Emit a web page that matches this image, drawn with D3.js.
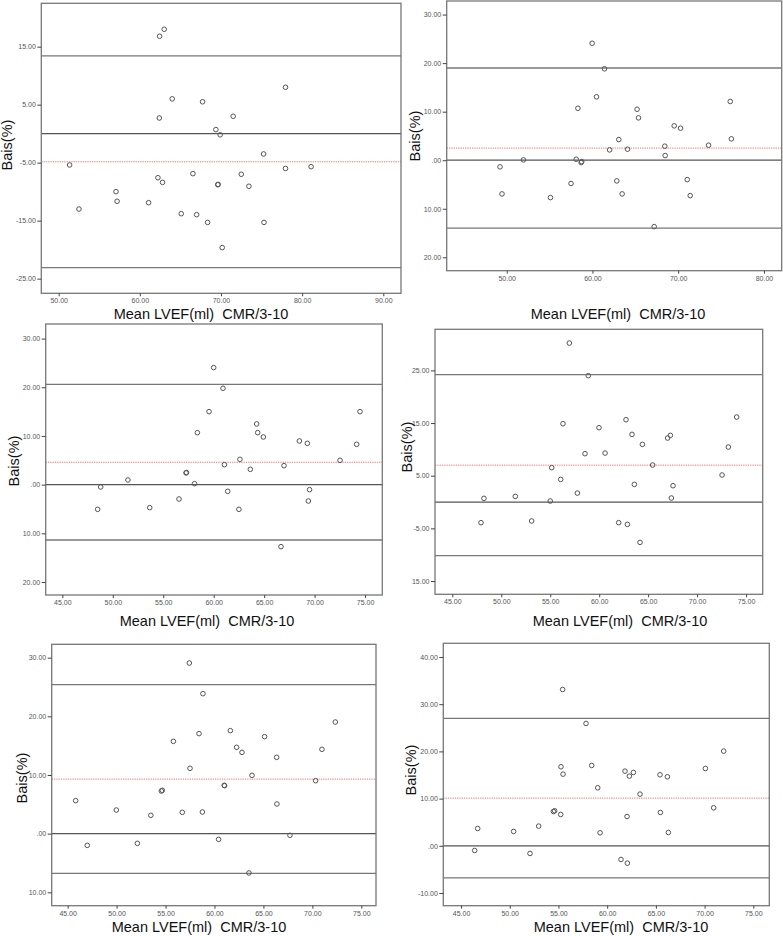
<!DOCTYPE html>
<html>
<head>
<meta charset="utf-8">
<script src="https://cdn.jsdelivr.net/npm/d3@7"></script>
<style>
  html, body { margin: 0; padding: 0; background: #fff; }
  svg { display: block; }
</style>
</head>
<body>
<svg id="chart" width="783" height="936"></svg>
<script>
// ---------------- DATA ----------------
// Panel 1
const p1Mean = [51.35, 52.5, 57.06, 57.2, 61.08, 62.44, 63.0, 62.4, 62.23, 62.8, 63.99, 65.1, 66.54, 67.0, 67.73, 68.35, 69.37, 69.9, 69.6, 69.65, 70.15, 71.5, 72.5, 73.44, 75.25, 75.3, 77.95, 77.95, 81.1];
const p1Bias = [-5.4, -13.0, -10.0, -11.66, -11.9, 16.8, 18.0, 2.7, -7.6, -8.4, 6.0, -13.8, -6.9, -13.97, 5.5, -15.3, 0.7, -0.2, -8.8, -8.75, -19.65, 3.0, -7.0, -9.07, -3.5, -15.3, 8.0, -6.0, -5.7];
const p1Limits = [13.4, 0, -23.1];
const p1Avg = -4.85;
const p1XTicks = [50, 60, 70, 80, 90];
const p1XLabels = ["50.00", "60.00", "70.00", "80.00", "90.00"];
const p1YTicks = [15, 5, -5, -15, -25];
const p1YLabels = ["15.00", "5.00", "-5.00", "-15.00", "-25.00"];

// Panel 2
const p2Mean = [49.22, 49.45, 51.95, 55.1, 57.5, 58.1, 58.3, 58.68, 58.75, 59.96, 60.47, 61.4, 62.0, 62.84, 63.07, 63.46, 64.09, 65.2, 65.37, 68.44, 68.48, 69.53, 70.27, 71.05, 71.4, 73.54, 76.07, 76.2, 67.2];
const p2Bias = [-1.37, -6.94, 0.07, -7.7, -4.8, 0.2, 10.7, -0.48, -0.3, 24.1, 13.06, 18.83, 2.13, -4.26, 4.26, -6.94, 2.27, 10.5, 8.73, 2.89, 0.96, 7.08, 6.6, -3.99, -7.29, 3.09, 12.1, 4.4, -13.68];
const p2Limits = [19.0, 0, -14.0];
const p2Avg = 2.5;
const p2XTicks = [50, 60, 70, 80];
const p2XLabels = ["50.00", "60.00", "70.00", "80.00"];
const p2YTicks = [30, 20, 10, 0, -10, -20];
const p2YLabels = ["30.00", "20.00", "10.00", ".00", "10.00", "20.00"];

// Panel 3
const p3Mean = [48.5, 48.8, 51.5, 53.66, 56.56, 57.26, 57.3, 58.1, 58.38, 59.54, 60.0, 60.92, 61.06, 61.39, 62.5, 62.6, 63.63, 64.26, 64.36, 64.92, 66.67, 66.97, 68.49, 69.28, 69.38, 69.5, 72.52, 74.17, 74.5];
const p3Bias = [-5.07, -0.48, 0.96, -4.73, -2.95, 2.4, 2.5, 0.2, 10.68, 15.0, 24.04, 19.8, 4.1, -1.37, -5.07, 5.2, 3.15, 12.47, 10.68, 9.79, -12.74, 3.9, 8.97, 8.49, -3.36, -1.03, 5.0, 8.29, 15.0];
const p3Limits = [20.6, 0, -11.37];
const p3Avg = 4.6;
const p3XTicks = [45, 50, 55, 60, 65, 70, 75];
const p3XLabels = ["45.00", "50.00", "55.00", "60.00", "65.00", "70.00", "75.00"];
const p3YTicks = [30, 20, 10, 0, -10, -20];
const p3YLabels = ["30.00", "20.00", "10.00", ".00", "10.00", "20.00"];

// Panel 4
const p4Mean = [47.93, 48.23, 51.43, 53.1, 55.0, 55.15, 56.07, 56.3, 56.95, 57.77, 58.55, 58.89, 59.98, 60.6, 61.99, 62.74, 62.88, 63.35, 63.59, 64.17, 64.41, 65.46, 66.99, 67.27, 67.37, 67.54, 72.55, 73.19, 74.04];
const p4Bias = [-3.92, 0.7, 1.08, -3.6, 0.19, 6.52, 4.3, 14.87, 30.19, 1.7, 9.18, 23.99, 14.11, 9.3, -3.92, 15.63, -4.24, 12.85, 3.35, -7.66, 10.95, 7.03, 12.15, 12.66, 0.76, 3.1, 5.13, 10.44, 16.14];
const p4Limits = [24.18, 0, -10.19];
const p4Avg = 7.0;
const p4XTicks = [45, 50, 55, 60, 65, 70, 75];
const p4XLabels = ["45.00", "50.00", "55.00", "60.00", "65.00", "70.00", "75.00"];
const p4YTicks = [25, 15, 5, -5, -15];
const p4YLabels = ["25.00", "15.00", "5.00", "-5.00", "15.00"];

// Panel 5
const p5Mean = [45.82, 47.0, 49.97, 52.12, 53.5, 54.57, 54.67, 55.8, 56.71, 57.43, 57.5, 58.42, 58.76, 58.82, 60.42, 61.0, 61.03, 61.62, 62.26, 62.81, 63.52, 63.83, 65.12, 66.35, 66.38, 67.71, 70.33, 70.98, 72.34];
const p5Bias = [5.63, -1.99, 4.03, -1.65, 3.13, 7.27, 7.39, 15.74, 3.64, 29.09, 11.14, 17.05, 3.69, 23.86, -0.97, 8.24, 8.18, 17.56, 14.72, 13.86, -6.7, 9.94, 16.53, 13.01, 5.06, -0.28, 9.03, 14.38, 19.03];
const p5Limits = [25.4, 0, -6.76];
const p5Avg = 9.3;
const p5XTicks = [45, 50, 55, 60, 65, 70, 75];
const p5XLabels = ["45.00", "50.00", "55.00", "60.00", "65.00", "70.00", "75.00"];
const p5YTicks = [30, 20, 10, 0, -10];
const p5YLabels = ["30.00", "20.00", "10.00", ".00", "10.00"];

// Panel 6
const p6Mean = [46.4, 46.71, 50.4, 52.08, 52.97, 54.48, 54.61, 55.23, 55.26, 55.43, 55.47, 57.83, 58.41, 59.03, 59.27, 61.42, 61.83, 62.04, 62.07, 62.28, 62.69, 63.37, 65.42, 65.46, 66.18, 66.28, 70.08, 70.93, 71.96];
const p6Bias = [-0.99, 3.67, 3.04, -1.62, 4.17, 7.27, 7.42, 6.64, 16.74, 33.12, 15.18, 25.92, 17.02, 12.29, 2.75, -2.9, 15.82, 6.21, -3.67, 14.76, 15.54, 10.95, 15.04, 7.06, 14.62, 2.82, 16.38, 8.05, 20.06];
const p6Limits = [26.98, 0, -6.78];
const p6Avg = 10.1;
const p6XTicks = [45, 50, 55, 60, 65, 70, 75];
const p6XLabels = ["45.00", "50.00", "55.00", "60.00", "65.00", "70.00", "75.00"];
const p6YTicks = [40, 30, 20, 10, 0, -10];
const p6YLabels = ["40.00", "30.00", "20.00", "10.00", ".00", "-10.00"];

const xTitle = "Mean LVEF(ml)  CMR/3-10";
const yTitle = "Bais(%)";

// ---------------- LAYOUT ----------------
const panels = [
  { mean: p1Mean, bias: p1Bias, limits: p1Limits, avg: p1Avg, xt: p1XTicks, xl: p1XLabels, yt: p1YTicks, yl: p1YLabels,
    box: [41.3, 3.3, 401, 293.3], xd: [47.86, 92.18], yd: [-27.53, 22.48], xTitlePos: [201, 314], yTitlePos: [7, 145] },
  { mean: p2Mean, bias: p2Bias, limits: p2Limits, avg: p2Avg, xt: p2XTicks, xl: p2XLabels, yt: p2YTicks, yl: p2YLabels,
    box: [446.7, 1, 781.7, 270.7], xd: [43.0, 82.07], yd: [-22.76, 32.8], xTitlePos: [618, 314], yTitlePos: [415, 136] },
  { mean: p3Mean, bias: p3Bias, limits: p3Limits, avg: p3Avg, xt: p3XTicks, xl: p3XLabels, yt: p3YTicks, yl: p3YLabels,
    box: [45.7, 324, 382.3, 595], xd: [43.35, 76.71], yd: [-22.67, 33.0], xTitlePos: [207, 621], yTitlePos: [13.5, 461] },
  { mean: p4Mean, bias: p4Bias, limits: p4Limits, avg: p4Avg, xt: p4XTicks, xl: p4XLabels, yt: p4YTicks, yl: p4YLabels,
    box: [435, 329.3, 762.7, 594.3], xd: [43.23, 76.7], yd: [-17.52, 32.8], xTitlePos: [620, 621], yTitlePos: [406.5, 447] },
  { mean: p5Mean, bias: p5Bias, limits: p5Limits, avg: p5Avg, xt: p5XTicks, xl: p5XLabels, yt: p5YTicks, yl: p5YLabels,
    box: [51.7, 644.3, 376, 905.7], xd: [43.37, 76.5], yd: [-12.28, 32.28], xTitlePos: [199, 927], yTitlePos: [22, 778] },
  { mean: p6Mean, bias: p6Bias, limits: p6Limits, avg: p6Avg, xt: p6XTicks, xl: p6XLabels, yt: p6YTicks, yl: p6YLabels,
    box: [443.3, 643.3, 769.3, 905.7], xd: [43.18, 76.64], yd: [-12.69, 42.9], xTitlePos: [621, 927], yTitlePos: [411, 770] }
];

const svg = d3.select("#chart");
const font = "'Liberation Sans', Arial, sans-serif";

panels.forEach(p => {
  const [x0, y0, x1, y1] = p.box;
  const x = d3.scaleLinear().domain(p.xd).range([x0, x1]);
  const y = d3.scaleLinear().domain(p.yd).range([y1, y0]);
  const g = svg.append("g");

  // reference lines (limits of agreement and zero)
  g.selectAll("line.lim").data(p.limits).enter().append("line")
    .attr("class", "lim")
    .attr("x1", x0).attr("x2", x1)
    .attr("y1", d => y(d)).attr("y2", d => y(d))
    .attr("stroke", d => d === 0 ? "#555" : "#777")
    .attr("stroke-width", 1.3);

  // mean bias (red dotted)
  g.append("line")
    .attr("x1", x0).attr("x2", x1)
    .attr("y1", y(p.avg)).attr("y2", y(p.avg))
    .attr("stroke", "#ee7777")
    .attr("stroke-width", 1)
    .attr("stroke-dasharray", "1.3,1");

  // frame
  g.append("rect")
    .attr("x", x0).attr("y", y0)
    .attr("width", x1 - x0).attr("height", y1 - y0)
    .attr("fill", "none").attr("stroke", "#777").attr("stroke-width", 1.3);

  // axes
  const xAxis = d3.axisBottom(x).tickValues(p.xt).tickSize(3).tickPadding(2)
    .tickFormat((d, i) => p.xl[i]);
  const gx = g.append("g").attr("transform", `translate(0,${y1})`).call(xAxis);
  gx.select(".domain").remove();
  gx.selectAll("line").attr("stroke", "#444").attr("stroke-width", 1);
  gx.selectAll("text").attr("font-size", 7).attr("fill", "#555").attr("font-family", font);

  const yAxis = d3.axisLeft(y).tickValues(p.yt).tickSize(4).tickPadding(1.5)
    .tickFormat((d, i) => p.yl[i]);
  const gy = g.append("g").attr("transform", `translate(${x0},0)`).call(yAxis);
  gy.select(".domain").remove();
  gy.selectAll("line").attr("stroke", "#444").attr("stroke-width", 1);
  gy.selectAll("text").attr("font-size", 7).attr("fill", "#555").attr("font-family", font);

  // points
  g.selectAll("circle.pt").data(p.mean.map((m, i) => [m, p.bias[i]])).enter().append("circle")
    .attr("class", "pt")
    .attr("cx", d => x(d[0])).attr("cy", d => y(d[1]))
    .attr("r", 2.3)
    .attr("fill", "none").attr("stroke", "#555").attr("stroke-width", 1);

  // titles
  svg.append("text")
    .attr("x", p.xTitlePos[0]).attr("y", p.xTitlePos[1])
    .attr("text-anchor", "middle").attr("dominant-baseline", "central")
    .attr("font-family", font).attr("font-size", 14.5).attr("fill", "#111")
    .attr("xml:space", "preserve").style("white-space", "pre")
    .text(xTitle);
  svg.append("text")
    .attr("transform", `translate(${p.yTitlePos[0]},${p.yTitlePos[1]}) rotate(-90)`)
    .attr("text-anchor", "middle").attr("dominant-baseline", "central")
    .attr("font-family", font).attr("font-size", 14.5).attr("fill", "#111")
    .text(yTitle);
});
</script>
</body>
</html>
